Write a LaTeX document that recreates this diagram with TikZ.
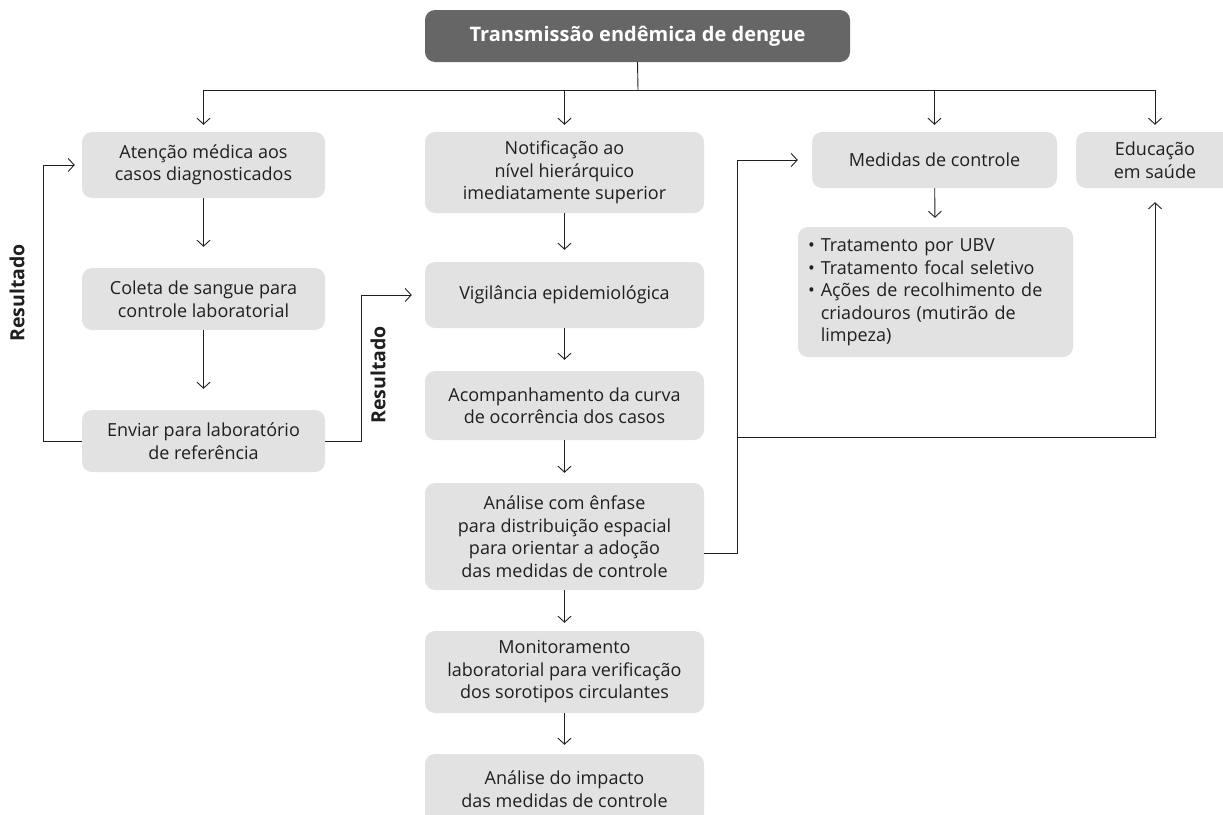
\documentclass[tikz,border=0pt]{standalone}
\usepackage{fontspec}
\setmainfont{Open Sans}
\usepackage{tikz}
\usetikzlibrary{arrows.meta, positioning}
\definecolor{boxgray}{HTML}{E2E2E2}
\definecolor{titlegray}{HTML}{666666}
\colorlet{inkgray}{black!88}

\begin{document}
\begin{tikzpicture}[x=1pt, y=-1pt,
    box/.style={fill=boxgray, rounded corners=10pt, align=center, inner sep=0pt,
      text=inkgray, font=\fontsize{18}{22.5}\selectfont},
    leftbox/.style={box, minimum width=243pt},
    midbox/.style={box, minimum width=279pt},
    conn/.style={draw=inkgray, line width=0.9pt, -{Straight Barb[length=6pt, width=13pt]}},
    wire/.style={draw=inkgray, line width=0.9pt},
    sidelabel/.style={rotate=90, text=inkgray, font=\fontsize{19.5}{22}\selectfont\bfseries}]
  \useasboundingbox (0,0) rectangle (1223,814);
  % top of the chart
  \node[box, fill=titlegray, text=white, minimum width=425pt, minimum height=52pt,
    font=\fontsize{20}{24}\selectfont\bfseries] (title) at (637.5,36) {Transmissão endêmica de dengue};
  \coordinate (hub) at (638,90);
  % left column
  \node[leftbox, minimum height=66pt] (atencao) at (203.5,165) {Atenção médica aos\\casos diagnosticados};
  \node[leftbox, minimum height=62pt] (coleta) at (203.5,299) {Coleta de sangue para\\controle laboratorial};
  \node[leftbox, minimum height=62pt] (enviar) at (203.5,441) {Enviar para laboratório\\de referência};
  % middle column
  \node[midbox, minimum height=81pt] (notific) at (564.5,172.5) {Notificação ao\\nível hierárquico\\imediatamente superior};
  \node[midbox, minimum height=66pt] (vigil) at (564.5,295) {Vigilância epidemiológica};
  \node[midbox, minimum height=69pt] (acomp) at (564.5,405.5) {Acompanhamento da curva\\de ocorrência dos casos};
  \node[midbox, minimum height=107pt] (analise) at (564.5,536.5) {Análise com ênfase\\para distribuição espacial\\para orientar a adoção\\das medidas de controle};
  \node[midbox, minimum height=82pt] (monit) at (564.5,672) {Monitoramento\\laboratorial para verificação\\dos sorotipos circulantes};
  \node[midbox, minimum height=70pt] (impacto) at (564.5,789) {Análise do impacto\\das medidas de controle};
  % right side
  \node[box, minimum width=245pt, minimum height=56pt] (medidas) at (934.5,160) {Medidas de controle};
  \node[box, minimum width=158pt, minimum height=56pt] (educacao) at (1155,160) {Educação\\em saúde};
  \node[box, align=left, text width=255pt, inner xsep=10pt, minimum height=130pt] (ubv) at (935.5,292)
    {\begin{tabular}{@{}l@{\hspace{6pt}}l@{}}
      •&Tratamento por UBV\\
      •&Tratamento focal seletivo\\
      •&Ações de recolhimento de\\
       &criadouros (mutirão de\\
       &limpeza)
    \end{tabular}};
  % connectors
  \draw[wire] (title.south) -- (hub);
  \draw[wire] (atencao.north |- hub) -- (educacao.north |- hub);
  \foreach \n in {atencao, notific, medidas, educacao}{
    \draw[conn, shorten >=7pt] (\n.north |- hub) -- (\n.north);}
  \draw[conn, shorten >=21pt] (atencao) -- (coleta);
  \draw[conn, shorten >=21pt] (coleta) -- (enviar);
  \draw[conn, shorten >=12pt] (notific) -- (vigil);
  \draw[conn, shorten >=11pt] (vigil) -- (acomp);
  \draw[conn, shorten >=10pt] (acomp) -- (analise);
  \draw[conn, shorten >=8pt] (analise) -- (monit);
  \draw[conn, shorten >=9pt] (monit) -- (impacto);
  \draw[conn, shorten >=9pt] (medidas) -- (ubv);
  \draw[conn, shorten >=7pt] (enviar.west) -- ++(-38,0) |- (atencao.west);
  \draw[conn, shorten >=13pt] (enviar.east) -- ++(36,0) |- (vigil.west);
  \coordinate (branch) at (737,437);
  \draw[conn, shorten >=14pt] ([yshift=-17pt]analise.east) -| (branch) |- (medidas.west);
  \draw[conn, shorten >=14pt] (branch) -| (educacao.south);
  \node[sidelabel] (resA) at (17,293) {Resultado};
  \node[sidelabel] (resB) at (378,375) {Resultado};
\end{tikzpicture}
\end{document}
